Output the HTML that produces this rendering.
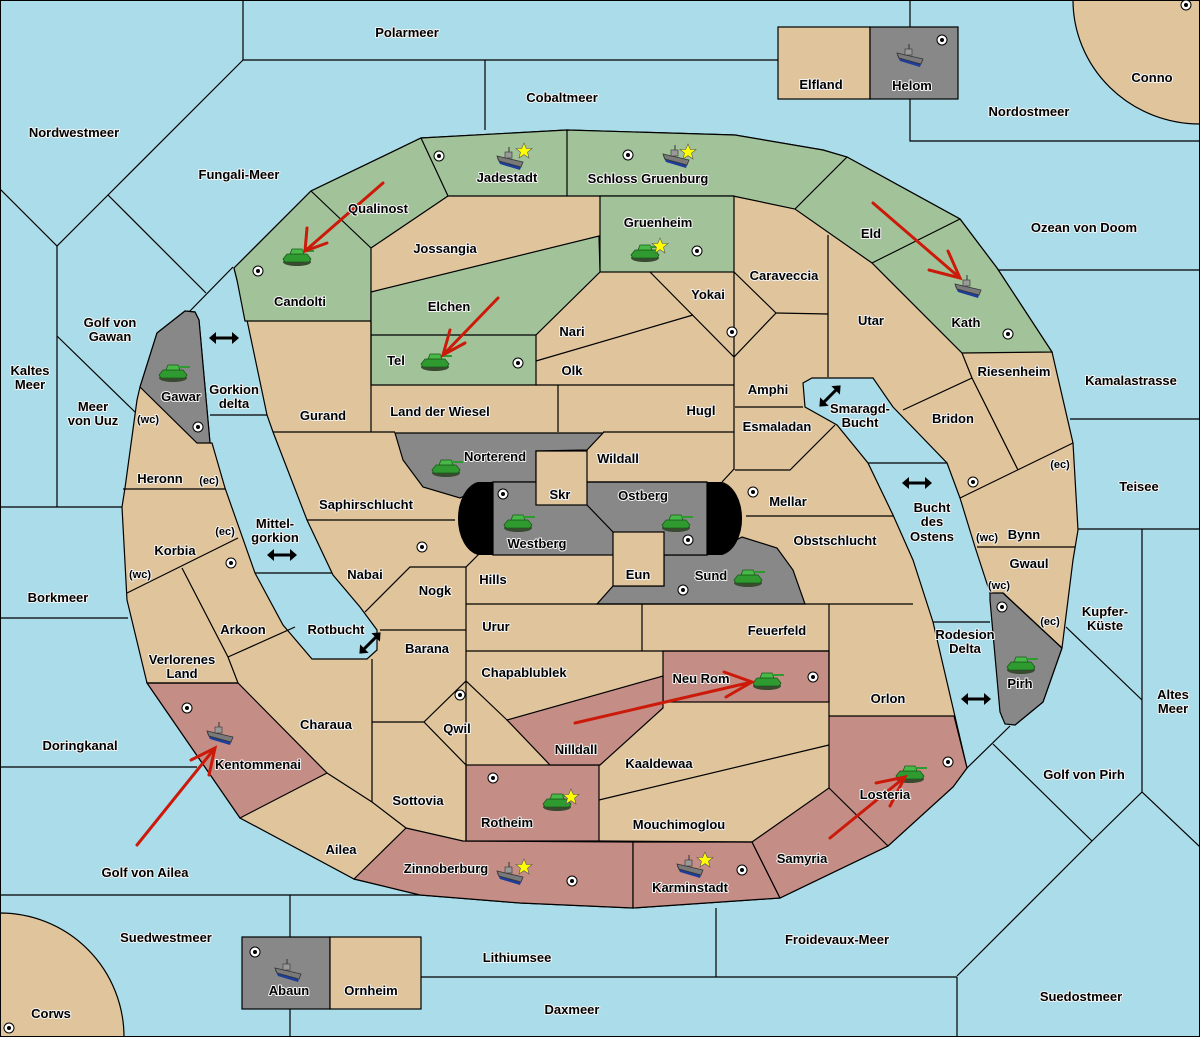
<!DOCTYPE html>
<html><head><meta charset="utf-8"><style>
html,body{margin:0;padding:0;background:#fff}
svg{display:block}
text{font-family:"Liberation Sans","DejaVu Sans",sans-serif;font-weight:bold;font-size:13px;fill:#000;text-anchor:middle;paint-order:stroke;stroke:#f4f4f4;stroke-width:2px;stroke-linejoin:round}
text.s{font-size:11px}
.l{stroke:#000;stroke-width:1.2;fill:none}
.r{stroke:#000;stroke-width:1.2}
</style></head><body>
<svg width="1200" height="1037" viewBox="0 0 1200 1037" xmlns="http://www.w3.org/2000/svg">
<defs>
<g id="tank"><ellipse cx="0" cy="5" rx="14" ry="4" fill="#3a4a30"/><path d="M-14,2 L-10,-3 L10,-3 L14,2 L12,5 L-12,5Z" fill="#2f9a2f" stroke="#1a5a1a" stroke-width="0.8"/><path d="M-7,-3 L-5,-8 L5,-8 L7,-3Z" fill="#48b848" stroke="#1a5a1a" stroke-width="0.8"/><rect x="5" y="-7" width="12" height="2" fill="#2f9a2f"/></g>
<g id="ship"><path d="M-13,-2 L12,4 L10,10 L-10,4Z" fill="#1d3d9a"/><path d="M-13,-4 L13,2 L11,7 L-11,1Z" fill="#7a7a7a" stroke="#333" stroke-width="0.8"/><rect x="-5" y="-8" width="7" height="6" fill="#999" stroke="#333" stroke-width="0.6"/><line x1="-1" y1="-8" x2="-1" y2="-13" stroke="#333"/></g>
<g id="sc"><circle r="5" fill="#fff" stroke="#000" stroke-width="1"/><circle r="2" fill="#000"/></g>
<g id="star"><polygon points="0,-8 2.3,-2.5 8,-2.5 3.5,1.2 5,7 0,3.6 -5,7 -3.5,1.2 -8,-2.5 -2.3,-2.5" fill="#ffff00" stroke="#555" stroke-width="0.6"/></g>
<g id="dar"><line x1="-10" y1="0" x2="10" y2="0" stroke="#000" stroke-width="3"/><polygon points="-15,0 -8,-6 -8,6" fill="#000"/><polygon points="15,0 8,-6 8,6" fill="#000"/></g>
</defs>
<rect x="0" y="0" width="1200" height="1037" fill="#aadde9"/>
<g class="l">
<polyline points="243,0 243,60 910,60"/><line x1="485" y1="60" x2="485" y2="130"/>
<polyline points="910,0 910,141 1200,141"/>
<polyline points="243,60 108,195 57,246 0,189"/><line x1="57" y1="246" x2="57" y2="507"/>
<line x1="108" y1="195" x2="206" y2="293"/><line x1="188" y1="313" x2="233" y2="267"/>
<line x1="57" y1="336" x2="135" y2="412"/>
<line x1="0" y1="507" x2="122" y2="507"/><line x1="0" y1="618" x2="128" y2="618"/><line x1="0" y1="767" x2="197" y2="767"/>
<line x1="0" y1="895" x2="420" y2="895"/><line x1="290" y1="895" x2="290" y2="1037"/>
<line x1="421" y1="977" x2="957" y2="977"/><line x1="716" y1="908" x2="716" y2="977"/><line x1="957" y1="977" x2="957" y2="1037"/>
<line x1="957" y1="976" x2="1092" y2="841"/>
<line x1="997" y1="270" x2="1200" y2="270"/><line x1="1070" y1="419" x2="1200" y2="419"/><line x1="1078" y1="529" x2="1200" y2="529"/>
<line x1="1142" y1="529" x2="1142" y2="792"/><line x1="1066" y1="627" x2="1142" y2="700"/>
<line x1="1142" y1="792" x2="1200" y2="847"/><line x1="1142" y1="792" x2="1092" y2="841"/><line x1="993" y1="744" x2="1092" y2="841"/>
<line x1="1010" y1="726" x2="967" y2="768"/>
<line x1="210" y1="415" x2="267" y2="415"/><line x1="255" y1="573" x2="333" y2="573"/>
<line x1="868" y1="463" x2="947" y2="463"/><line x1="933" y1="622" x2="990" y2="622"/>
</g>
<path class="r" d="M1073,0 A127,124 0 0 0 1200,124 V0 Z" fill="#e0c59c"/>
<path class="r" d="M0,913 A124,124 0 0 1 124,1037 H0 Z" fill="#e0c59c"/>
<rect class="r" x="778" y="27" width="92" height="72" fill="#e0c59c"/>
<rect class="r" x="870" y="27" width="88" height="72" fill="#888"/>
<rect class="r" x="242" y="937" width="88" height="72" fill="#888"/>
<rect class="r" x="330" y="937" width="91" height="72" fill="#e0c59c"/>
<polygon class="r" fill="#e0c59c" points="185,311 157,333 140,387 137,400 125,488 122,507 127,600 147,683 240,818 354,879 420,895 520,903 633,908 780,898 888,846 953,787 967,768 933,622 913,560 893,515 868,463 837,425 805,407 803,383 812,378 873,378 893,407 947,463 960,498 975,547 990,593 998,660 1002,717 1015,725 1043,702 1062,648 1073,560 1078,530 1073,443 1052,352 997,268 960,219 847,157 823,150 735,135 567,130 421,138 311,191 234,268 237,280 247,320 267,415 273,432 307,520 333,575 360,607 377,630 377,650 367,659 312,659 283,625 255,573 225,488 212,443 210,443 199,320 195,312"/>
<polygon class="r" fill="#a2c39a" points="234,268 311,191 421,138 567,130 735,135 823,150 847,157 960,219 997,268 1052,352 962,353 872,263 795,209 733,196 448,196 371,248 371,321 245,321 237,280"/>
<rect class="r" x="600" y="196" width="134" height="76" fill="#a2c39a"/>
<polygon class="r" fill="#a2c39a" points="371,292 599,236 600,272 536,335 536,385 371,385"/>
<g class="l"><line x1="311" y1="191" x2="371" y2="248"/><line x1="421" y1="138" x2="448" y2="196"/><line x1="567" y1="130" x2="567" y2="196"/><line x1="795" y1="209" x2="847" y2="157"/><line x1="872" y1="263" x2="960" y2="219"/><line x1="371" y1="335" x2="536" y2="335"/></g>
<polygon class="r" fill="#c48d85" points="147,683 238,683 327,773 240,818"/>
<polygon class="r" fill="#c48d85" points="406,828 463,841 633,842 633,908 520,903 420,895 354,879"/>
<rect class="r" x="466" y="765" width="133" height="76" fill="#c48d85"/>
<polygon class="r" fill="#c48d85" points="633,842 752,842 780,898 633,908"/>
<polygon class="r" fill="#c48d85" points="752,842 829,788 829,716 954,716 967,768 953,787 888,846 780,898"/>
<line class="l" x1="829" y1="788" x2="888" y2="846"/>
<rect class="r" x="663" y="651" width="166" height="51" fill="#c48d85"/>
<polygon class="r" fill="#c48d85" points="507,720 663,676 663,708 600,765 550,765"/>
<polygon class="r" fill="#888" points="157,333 185,311 195,312 199,320 210,443 197,443 140,387"/>
<polygon class="r" fill="#888" points="990,593 1003,593 1062,648 1043,702 1015,725 1005,724 1000,712 990,600"/>
<polygon class="r" fill="#888" points="395,433 603,433 587,450 536,451 536,482 493,482 460,498 423,487 403,460"/>
<polygon class="r" fill="#888" points="664,555 707,555 742,537 777,548 793,570 805,604 597,604 613,586 664,586"/>
<rect class="r" x="493" y="482" width="214" height="73" fill="#888"/>
<path d="M493,482 L478,482 A24,37 0 0 0 478,555 L493,555Z" fill="#000"/>
<path d="M707,482 L722,482 A24,37 0 0 1 722,555 L707,555Z" fill="#000"/>
<rect class="r" x="536" y="451" width="51" height="54" fill="#e0c59c"/>
<rect class="r" x="613" y="532" width="51" height="54" fill="#e0c59c"/>
<line class="l" x1="587" y1="505" x2="613" y2="532"/>
<g class="l">
<line x1="371" y1="321" x2="371" y2="432"/>
<line x1="273" y1="432" x2="395" y2="432"/>
<line x1="603" y1="432" x2="734" y2="432"/>
<line x1="558" y1="385" x2="558" y2="432"/>
<line x1="536" y1="361" x2="693" y2="315"/>
<line x1="536" y1="385" x2="734" y2="385"/>
<polyline points="650,272 734,357 776,313 734,272"/>
<line x1="734" y1="272" x2="734" y2="470"/>
<polyline points="776,313 828,314"/><line x1="828" y1="235" x2="828" y2="377"/>
<line x1="735" y1="407" x2="803" y2="407"/>
<polyline points="735,470 790,470 835,425"/>
<line x1="962" y1="353" x2="972" y2="378"/><line x1="903" y1="410" x2="972" y2="378"/>
<line x1="972" y1="378" x2="1018" y2="470"/><line x1="960" y1="498" x2="1073" y2="443"/>
<line x1="977" y1="547" x2="1075" y2="547"/>
<line x1="722" y1="482" x2="734" y2="469"/>
<line x1="587" y1="482" x2="707" y2="482"/>
<line x1="746" y1="516" x2="893" y2="516"/>
<line x1="307" y1="520" x2="455" y2="520"/>
<polyline points="365,612 410,567 466,567 480,553"/>
<line x1="466" y1="567" x2="466" y2="841"/>
<line x1="466" y1="604" x2="913" y2="604"/>
<line x1="380" y1="630" x2="466" y2="630"/>
<line x1="642" y1="604" x2="642" y2="651"/>
<line x1="466" y1="651" x2="829" y2="651"/>
<line x1="829" y1="604" x2="829" y2="716"/>
<line x1="372" y1="659" x2="372" y2="802"/>
<line x1="372" y1="722" x2="424" y2="722"/>
<polyline points="466,765 424,722 466,681 507,720"/>
<polyline points="327,773 372,802 406,828"/>
<line x1="599" y1="800" x2="829" y2="745"/>
<line x1="599" y1="841" x2="752" y2="842"/>
<line x1="123" y1="489" x2="225" y2="489"/>
<line x1="127" y1="593" x2="238" y2="538"/>
<polyline points="182,568 228,657 238,683"/>
<line x1="228" y1="657" x2="295" y2="627"/>
<line x1="147" y1="683" x2="238" y2="683"/>
<line x1="1003" y1="593" x2="1062" y2="648"/>
</g>
<rect x="0.5" y="0.5" width="1199" height="1036" fill="none" stroke="#000"/>
<g>
<use href="#sc" x="258" y="271"/><use href="#sc" x="439" y="156"/><use href="#sc" x="628" y="155"/><use href="#sc" x="697" y="251"/><use href="#sc" x="518" y="363"/><use href="#sc" x="732" y="332"/><use href="#sc" x="1008" y="334"/><use href="#sc" x="198" y="427"/><use href="#sc" x="503" y="494"/><use href="#sc" x="422" y="547"/><use href="#sc" x="231" y="563"/><use href="#sc" x="688" y="540"/><use href="#sc" x="753" y="492"/><use href="#sc" x="683" y="590"/><use href="#sc" x="973" y="482"/><use href="#sc" x="1002" y="607"/><use href="#sc" x="813" y="677"/><use href="#sc" x="460" y="695"/><use href="#sc" x="187" y="708"/><use href="#sc" x="493" y="778"/><use href="#sc" x="948" y="762"/><use href="#sc" x="572" y="881"/><use href="#sc" x="742" y="870"/><use href="#sc" x="255" y="952"/><use href="#sc" x="942" y="40"/><use href="#sc" x="1186" y="5"/><use href="#sc" x="9" y="1028"/>
</g>
<g>
<use href="#tank" x="297" y="257"/><use href="#tank" x="435" y="362"/><use href="#tank" x="645" y="253"/><use href="#tank" x="446" y="468"/><use href="#tank" x="518" y="523"/><use href="#tank" x="676" y="523"/><use href="#tank" x="748" y="578"/><use href="#tank" x="767" y="681"/><use href="#tank" x="557" y="802"/><use href="#tank" x="910" y="774"/><use href="#tank" x="173" y="373"/><use href="#tank" x="1021" y="665"/>
<use href="#ship" x="510" y="160"/><use href="#ship" x="676" y="158"/><use href="#ship" x="968" y="288"/><use href="#ship" x="220" y="735"/><use href="#ship" x="510" y="875"/><use href="#ship" x="690" y="868"/><use href="#ship" x="910" y="57"/><use href="#ship" x="288" y="972"/>
<use href="#star" x="524" y="151"/><use href="#star" x="688" y="152"/><use href="#star" x="660" y="246"/><use href="#star" x="571" y="797"/><use href="#star" x="524" y="867"/><use href="#star" x="705" y="860"/>
</g>
<g stroke="#cc1a0a" stroke-width="3" fill="none" stroke-linecap="round">
<path d="M383,183 L305,251 M307,228 L305,251 L327,243"/>
<path d="M498,298 L443,355 M450,330 L443,355 L465,343"/>
<path d="M873,203 L960,278 M929,270 L960,278 L948,251"/>
<path d="M137,845 L215,748 M191,760 L215,748 L209,775"/>
<path d="M575,723 L752,682 M724,672 L752,682 L726,697"/>
<path d="M830,838 L905,777 M876,783 L905,777 L890,806"/>
</g>
<use href="#dar" x="224" y="338"/><use href="#dar" x="282" y="555"/><use href="#dar" x="370" y="643" transform="rotate(-45 370 643)"/><use href="#dar" x="830" y="396" transform="rotate(-45 830 396)"/><use href="#dar" x="917" y="483"/><use href="#dar" x="976" y="699"/>
<g>
<text x="407" y="37">Polarmeer</text><text x="562" y="102">Cobaltmeer</text><text x="821" y="89">Elfland</text><text x="912" y="90">Helom</text><text x="1152" y="82">Conno</text><text x="1029" y="116">Nordostmeer</text><text x="74" y="137">Nordwestmeer</text><text x="239" y="179">Fungali-Meer</text><text x="378" y="213">Qualinost</text><text x="507" y="182">Jadestadt</text><text x="648" y="183">Schloss Gruenburg</text><text x="658" y="227">Gruenheim</text><text x="445" y="253">Jossangia</text><text x="871" y="238">Eld</text><text x="1084" y="232">Ozean von Doom</text><text x="784" y="280">Caraveccia</text><text x="708" y="299">Yokai</text><text x="300" y="306">Candolti</text><text x="449" y="311">Elchen</text><text x="572" y="336">Nari</text><text x="871" y="325">Utar</text><text x="966" y="327">Kath</text>
<text x="110" y="327">Golf von</text><text x="110" y="341">Gawan</text><text x="396" y="365">Tel</text><text x="572" y="375">Olk</text><text x="1014" y="376">Riesenheim</text><text x="1131" y="385">Kamalastrasse</text><text x="30" y="375">Kaltes</text><text x="30" y="389">Meer</text><text x="768" y="394">Amphi</text><text x="181" y="401">Gawar</text><text x="234" y="394">Gorkion</text><text x="234" y="408">delta</text><text x="860" y="413">Smaragd-</text><text x="860" y="427">Bucht</text><text x="93" y="411">Meer</text><text x="93" y="425">von Uuz</text><text class="s" x="148" y="423">(wc)</text><text x="323" y="420">Gurand</text><text x="440" y="416">Land der Wiesel</text><text x="701" y="415">Hugl</text><text x="953" y="423">Bridon</text><text x="777" y="431">Esmaladan</text>
<text x="495" y="461">Norterend</text><text x="618" y="463">Wildall</text><text x="160" y="483">Heronn</text><text class="s" x="209" y="484">(ec)</text><text class="s" x="1060" y="468">(ec)</text><text x="1139" y="491">Teisee</text><text x="560" y="499">Skr</text><text x="643" y="500">Ostberg</text><text x="788" y="506">Mellar</text><text x="366" y="509">Saphirschlucht</text><text x="932" y="512">Bucht</text><text x="932" y="526">des</text><text x="932" y="541">Ostens</text><text x="275" y="528">Mittel-</text><text x="275" y="542">gorkion</text><text class="s" x="225" y="535">(ec)</text><text x="1024" y="539">Bynn</text><text class="s" x="987" y="541">(wc)</text><text x="537" y="548">Westberg</text><text x="835" y="545">Obstschlucht</text><text x="175" y="555">Korbia</text><text x="1029" y="568">Gwaul</text><text class="s" x="140" y="578">(wc)</text><text x="365" y="579">Nabai</text><text x="638" y="579">Eun</text><text x="711" y="580">Sund</text><text x="493" y="584">Hills</text><text class="s" x="999" y="589">(wc)</text><text x="435" y="595">Nogk</text><text x="58" y="602">Borkmeer</text>
<text x="1105" y="616">Kupfer-</text><text x="1105" y="630">Küste</text><text class="s" x="1050" y="625">(ec)</text><text x="496" y="631">Urur</text><text x="777" y="635">Feuerfeld</text><text x="336" y="634">Rotbucht</text><text x="243" y="634">Arkoon</text><text x="965" y="639">Rodesion</text><text x="965" y="653">Delta</text><text x="427" y="653">Barana</text><text x="182" y="664">Verlorenes</text><text x="182" y="678">Land</text><text x="524" y="677">Chapablublek</text><text x="701" y="683">Neu Rom</text><text x="1020" y="688">Pirh</text><text x="888" y="703">Orlon</text><text x="1173" y="699">Altes</text><text x="1173" y="713">Meer</text><text x="326" y="729">Charaua</text><text x="457" y="733">Qwil</text><text x="80" y="750">Doringkanal</text><text x="576" y="754">Nilldall</text><text x="258" y="769">Kentommenai</text><text x="659" y="768">Kaaldewaa</text><text x="1084" y="779">Golf von Pirh</text><text x="885" y="799">Losteria</text><text x="418" y="805">Sottovia</text><text x="507" y="827">Rotheim</text><text x="679" y="829">Mouchimoglou</text><text x="341" y="854">Ailea</text><text x="802" y="863">Samyria</text><text x="446" y="873">Zinnoberburg</text><text x="145" y="877">Golf von Ailea</text><text x="690" y="892">Karminstadt</text><text x="166" y="942">Suedwestmeer</text><text x="837" y="944">Froidevaux-Meer</text><text x="517" y="962">Lithiumsee</text><text x="289" y="995">Abaun</text><text x="371" y="995">Ornheim</text><text x="1081" y="1001">Suedostmeer</text><text x="572" y="1014">Daxmeer</text><text x="51" y="1018">Corws</text>
</g>
</svg>
</body></html>
